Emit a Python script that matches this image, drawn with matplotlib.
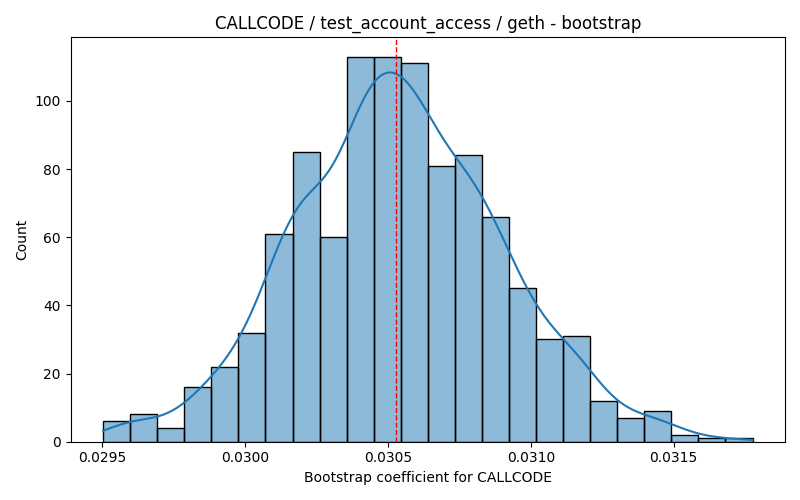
import numpy as np
import matplotlib
matplotlib.use("Agg")
import matplotlib.pyplot as plt

# bootstrap histogram
bin_start = 0.029503
bin_width = 0.0000947
counts = [6, 8, 4, 16, 22, 32, 61, 85, 60, 113, 113, 111,
          81, 84, 66, 45, 30, 31, 12, 7, 9, 2, 1, 1]
mean_value = 0.030529

title = "CALLCODE / test_account_access / geth - bootstrap"
xlabel = "Bootstrap coefficient for CALLCODE"
ylabel = "Count"


def kde_curve(centers, weights, grid, width):
	n = weights.sum()
	mu = np.sum(centers * weights) / n
	var = np.sum(weights * (centers - mu) ** 2) / (n - 1)
	# spread inside the bins was lost when binning, add it back (Sheppard)
	sd = np.sqrt(var + width ** 2 / 12)
	bw = sd * n ** (-1 / 5)
	dens = np.zeros_like(grid)
	for c, w in zip(centers, weights):
		dens += w * np.exp(-0.5 * ((grid - c) / bw) ** 2)
	dens /= n * bw * np.sqrt(2 * np.pi)
	return dens


counts = np.array(counts, dtype=float)
edges = bin_start + bin_width * np.arange(len(counts) + 1)
centers = (edges[:-1] + edges[1:]) / 2

fig, ax = plt.subplots(figsize=(8, 5), dpi=100)
ax.bar(edges[:-1], counts, width=bin_width, align="edge",
	color="#1f77b4", alpha=0.5, edgecolor="none")
ax.bar(edges[:-1], counts, width=bin_width, align="edge",
	fill=False, edgecolor="black", linewidth=1)

grid = np.linspace(edges[0], edges[-1], 300)
dens = kde_curve(centers, counts, grid, bin_width)
ax.plot(grid, dens * counts.sum() * bin_width, color="#1f77b4", linewidth=1.5)

ax.axvline(mean_value, color="red", linestyle="--", linewidth=1)

ax.set_title(title)
ax.set_xlabel(xlabel)
ax.set_ylabel(ylabel)
ax.set_xticks([0.0295, 0.0300, 0.0305, 0.0310, 0.0315])
ax.set_xticklabels(["0.0295", "0.0300", "0.0305", "0.0310", "0.0315"])
ax.set_yticks([0, 20, 40, 60, 80, 100])
ax.set_ylim(0, counts.max() * 1.05)
ax.set_xlim(edges[0] - 0.05 * (edges[-1] - edges[0]), edges[-1] + 0.05 * (edges[-1] - edges[0]))

plt.tight_layout()
plt.savefig("out.png")
